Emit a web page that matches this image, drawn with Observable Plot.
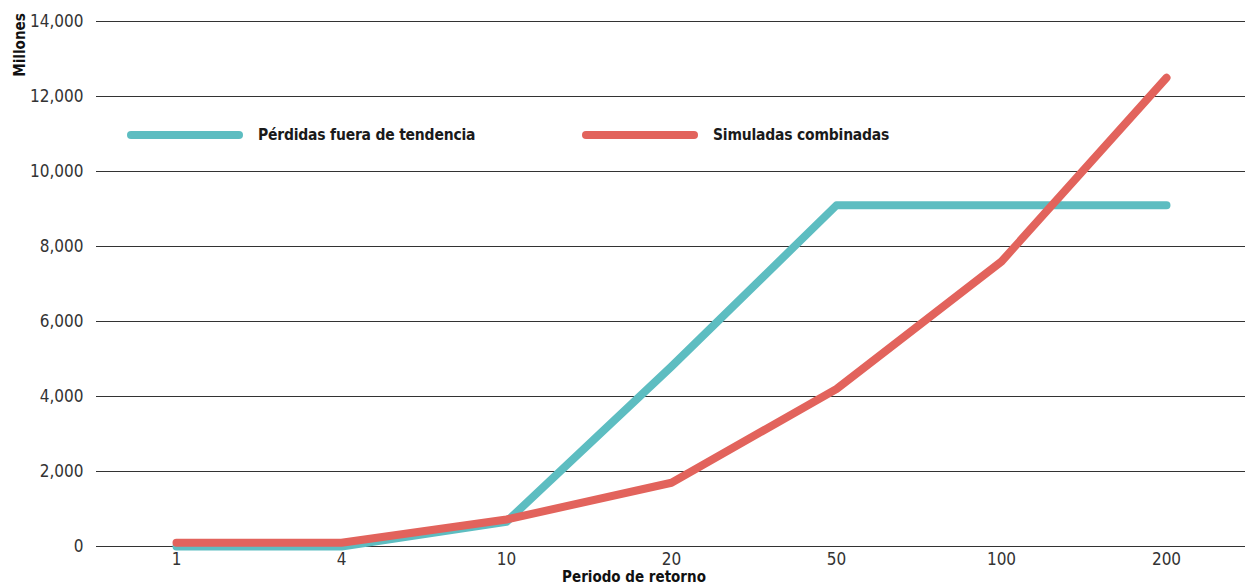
<!DOCTYPE html>
<html>
<head>
<meta charset="utf-8">
<script src="https://cdn.jsdelivr.net/npm/d3@7"></script>
<script src="https://cdn.jsdelivr.net/npm/@observablehq/plot@0.6"></script>
<style>
  html, body { margin: 0; padding: 0; background: #fff; }
  body { width: 1245px; height: 585px; overflow: hidden; position: relative;
         font-family: "DejaVu Sans Condensed", "Liberation Sans Narrow", sans-serif; }
  #chart { position: absolute; left: 0; top: 0; }
  .ylab { position: absolute; left: 20px; top: 45px; transform: translate(-50%, -50%) rotate(-90deg);
          font-weight: bold; font-size: 15px; color: #111; white-space: nowrap; }
  .xlab { position: absolute; left: 634px; top: 569px; transform: translateX(-50%);
          font-weight: bold; font-size: 15px; color: #111; white-space: nowrap; line-height: 16px; }
  .legend { position: absolute; top: 126px; display: flex; align-items: center; font-size: 15.5px; font-weight: bold; color: #1a1a1a; letter-spacing: -0.2px; }
  .legend .sw { width: 116px; height: 8px; border-radius: 4px; margin-right: 15px; }
</style>
</head>
<body>
<div id="chart"></div>
<div class="ylab">Millones</div>
<div class="xlab">Periodo de retorno</div>
<div id="legend"></div>
<script>
const periods = ["1", "4", "10", "20", "50", "100", "200"];
const perdidasFuera = [0, 0, 660, 4800, 9100, 9100, 9100];
const simuladas = [100, 100, 720, 1700, 4200, 7600, 12500];
const seriesNames = ["Pérdidas fuera de tendencia", "Simuladas combinadas"];
const seriesColors = ["#5dbdc1", "#e2635c"];
const yTicks = [0, 2000, 4000, 6000, 8000, 10000, 12000, 14000];

const data = [];
periods.forEach((p, i) => data.push({period: p, value: perdidasFuera[i], series: seriesNames[0]}));
periods.forEach((p, i) => data.push({period: p, value: simuladas[i], series: seriesNames[1]}));

const chart = Plot.plot({
  width: 1245,
  height: 585,
  marginTop: 21,
  marginBottom: 39,
  marginLeft: 96,
  marginRight: 0,
  style: {fontFamily: '"DejaVu Sans Condensed", "Liberation Sans Narrow", sans-serif', fontSize: "17px", color: "#333"},
  x: {type: "point", domain: periods, padding: 0.478, label: null, tickSize: 0, tickPadding: 6},
  y: {domain: [0, 14000], ticks: yTicks, tickFormat: d3.format(","), tickSize: 0, tickPadding: 13, label: null},
  color: {domain: seriesNames, range: seriesColors},
  marks: [
    Plot.ruleY(yTicks, {stroke: "#333", strokeWidth: 1.2}),
    Plot.line(data, {x: "period", y: "value", stroke: "series", z: "series", strokeWidth: 8, strokeLinecap: "round", strokeLinejoin: "round"})
  ]
});
document.getElementById("chart").appendChild(chart);

const legend = document.getElementById("legend");
const lefts = [127, 582];
seriesNames.forEach((n, i) => {
  const item = document.createElement("div");
  item.className = "legend";
  item.style.left = lefts[i] + "px";
  item.innerHTML = `<span class="sw" style="background:${seriesColors[i]}"></span><span>${n}</span>`;
  legend.appendChild(item);
});
</script>
</body>
</html>
